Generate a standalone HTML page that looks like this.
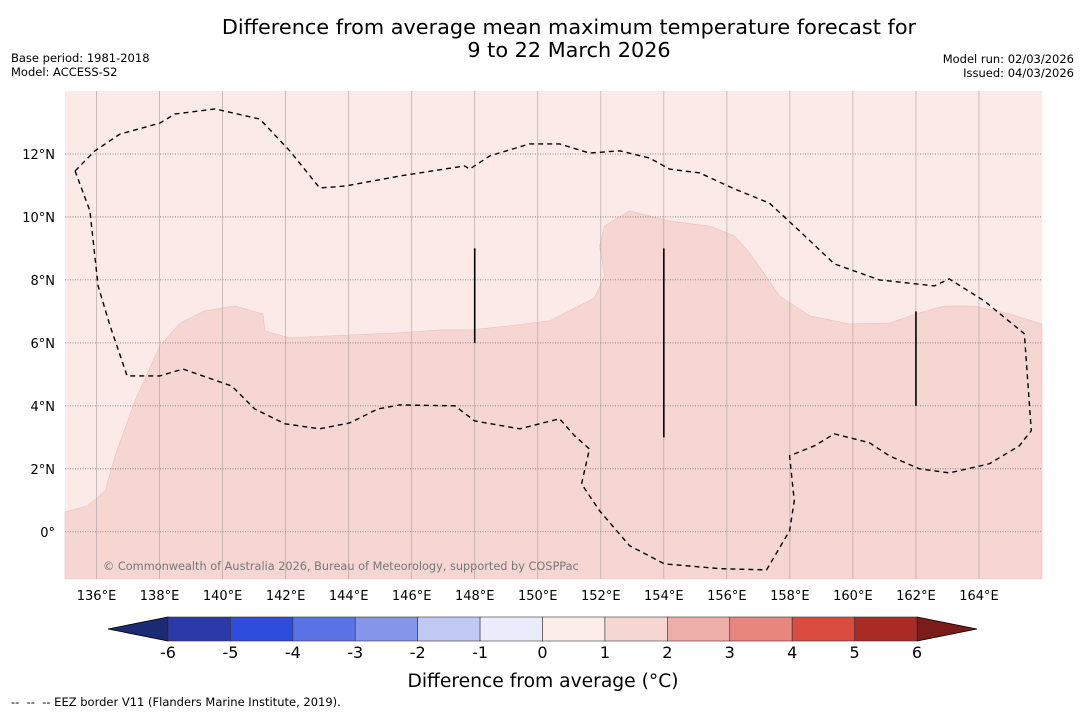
<!DOCTYPE html>
<html><head><meta charset="utf-8"><style>
body{margin:0;background:#fff;font-family:"Liberation Sans","DejaVu Sans",sans-serif;}
svg text{font-family:"DejaVu Sans","Liberation Sans",sans-serif;}
</style></head><body>
<svg id="c" width="1085" height="713" viewBox="0 0 1085 713">
<text x="569" y="34" font-size="20.8" text-anchor="middle">Difference from average mean maximum temperature forecast for</text>
<text x="569" y="57" font-size="20.8" text-anchor="middle">9 to 22 March 2026</text>
<text x="11" y="62" font-size="11.5">Base period: 1981-2018</text>
<text x="11" y="76" font-size="11.5">Model: ACCESS-S2</text>
<text x="1074" y="63" font-size="11.5" text-anchor="end">Model run: 02/03/2026</text>
<text x="1074" y="77" font-size="11.5" text-anchor="end">Issued: 04/03/2026</text>
<g id="map"></g>
<g id="cbar"></g>
<text x="543" y="687" font-size="18.7" text-anchor="middle">Difference from average (°C)</text>
<text x="11" y="706" font-size="11.5" xml:space="preserve">--  --  -- EEZ border V11 (Flanders Marine Institute, 2019).</text>
</svg>
<script>
const lonTicks=[136,138,140,142,144,146,148,150,152,154,156,158,160,162,164];
const latTicks=[0,2,4,6,8,10,12];
const anomLon=[135,135.73,136.27,136.59,137.22,138.01,138.65,139.44,140.39,141.28,141.34,142.13,143.4,145.62,146.89,147.84,149.11,150.38,151.01,151.8,152.12,151.96,152.12,152.91,154.18,155.45,156.24,156.72,157.67,158.62,159.89,161.16,162.11,162.9,163.85,164.96,166,166,135];
const anomLat=[0.63,0.83,1.3,2.41,4.16,5.9,6.63,7.02,7.17,6.92,6.38,6.16,6.22,6.32,6.41,6.41,6.54,6.7,7.02,7.43,8.13,9.08,9.71,10.19,9.87,9.71,9.4,8.86,7.49,6.86,6.6,6.63,6.95,7.17,7.17,6.92,6.6,-1.5,-1.5];
const eezLon=[135.32,135.95,136.74,138.01,138.49,139.76,141.18,142.13,143.08,143.88,145.62,147.68,147.84,148.48,149.74,150.69,151.64,152.6,153.55,154.18,155.13,156.24,157.35,158.3,159.41,160.84,162.58,163.06,164.17,165.44,165.66,165.28,164.33,163.06,162.11,161.16,160.52,159.41,158.78,157.99,158.14,157.99,157.26,155.77,154.02,152.91,151.96,151.39,151.64,151.17,150.69,149.43,148.0,147.37,145.62,144.92,144.04,143.08,141.98,141.02,140.29,138.74,138.01,136.97,136.43,136.05,135.79,135.32];
const eezLat=[11.46,12.1,12.63,12.98,13.27,13.43,13.11,12.1,10.92,10.98,11.3,11.62,11.52,11.94,12.32,12.32,12.03,12.1,11.87,11.52,11.4,10.89,10.44,9.56,8.51,8.0,7.81,8.03,7.33,6.29,3.21,2.73,2.16,1.87,2.0,2.41,2.83,3.11,2.73,2.41,0.98,0.03,-1.21,-1.17,-1.02,-0.44,0.67,1.52,2.63,3.05,3.59,3.27,3.52,4.0,4.03,3.9,3.46,3.27,3.43,3.9,4.63,5.17,4.95,4.95,6.54,7.81,10.19,11.46];
const segLon=[148,154,162];
const segLat0=[9,9,7];
const segLat1=[6,3,4];
const cbTicks=[-6,-5,-4,-3,-2,-1,0,1,2,3,4,5,6];
const cbColors=["#2a3aa8","#2e4ddd","#5a73e4","#8596ea","#c1c8f4","#eaecfb","#fcecea","#f5d6d3","#eeaea8","#e8857d","#dc4b40","#aa2a24"];
const ns="http://www.w3.org/2000/svg";
const X0=65,X1=1042,Y0=91,Y1=579,LON0=135,LON1=166,LAT0=-1.5,LAT1=14;
const lx=l=>X0+(l-LON0)/(LON1-LON0)*(X1-X0);
const ly=l=>Y1-(l-LAT0)/(LAT1-LAT0)*(Y1-Y0);
function mk(t,a,p){const e=document.createElementNS(ns,t);for(const k in a)e.setAttribute(k,a[k]);(p||map).appendChild(e);return e;}
const map=document.getElementById('map');
let e=mk('rect',{x:X0,y:Y0,width:X1-X0,height:Y1-Y0,fill:'#fbeae8'});


e=mk('polygon',{points:anomLon.map((v,i)=>lx(v)+','+ly(anomLat[i])).join(' '),fill:'#f5d6d3',stroke:'#e8c4c0','stroke-width':0.6});


lonTicks.forEach(v=>{
 let g=mk('line',{x1:lx(v),x2:lx(v),y1:Y0,y2:Y1,stroke:'#a89a9a','stroke-width':0.8,opacity:0.7});
 
 
 let t=mk('text',{x:lx(v),y:600,'font-size':13,'text-anchor':'middle'});t.textContent=v+'°E';
 
 
});
latTicks.forEach(v=>{
 let g=mk('line',{x1:X0,x2:X1,y1:ly(v),y2:ly(v),stroke:'#806f6f','stroke-width':0.8,'stroke-dasharray':'1,1.5'});
 
 
 let t=mk('text',{x:55,y:ly(v)+5,'font-size':13,'text-anchor':'end'});t.textContent=v===0?'0°':v+'°N';
 
 
});
e=mk('polyline',{points:eezLon.map((v,i)=>lx(v)+','+ly(eezLat[i])).join(' '),fill:'none',stroke:'#000','stroke-width':1.4,'stroke-dasharray':'5,4'});


segLon.forEach((v,i)=>{
 let s=mk('line',{x1:lx(v),x2:lx(v),y1:ly(segLat0[i]),y2:ly(segLat1[i]),stroke:'#000','stroke-width':1.6});
 
 
});
e=mk('text',{x:103,y:570,'font-size':11.3,fill:'#777'});e.textContent='© Commonwealth of Australia 2026, Bureau of Meteorology, supported by COSPPac';


const cb=document.getElementById('cbar');
const C0=168,C1=917,CY=617,CH=24;
const cx=v=>C0+(v+6)/12*(C1-C0);
e=mk('polygon',{points:`${C0},${CY} 108,${CY+CH/2} ${C0},${CY+CH}`,fill:'#1b2a75',stroke:'#000','stroke-width':0.8},cb);


e=mk('polygon',{points:`${C1},${CY} 977,${CY+CH/2} ${C1},${CY+CH}`,fill:'#7a1c17',stroke:'#000','stroke-width':0.8},cb);


cbColors.forEach((c,i)=>{
 let r=mk('rect',{x:cx(cbTicks[i]),y:CY,width:cx(cbTicks[i+1])-cx(cbTicks[i]),height:CH,fill:c,stroke:'#333','stroke-width':0.6},cb);
 
 
});
cbTicks.forEach(v=>{
 let t=mk('text',{x:cx(v),y:658,'font-size':16,'text-anchor':'middle'},cb);t.textContent=v;
 
 
});
</script>
</body></html>
